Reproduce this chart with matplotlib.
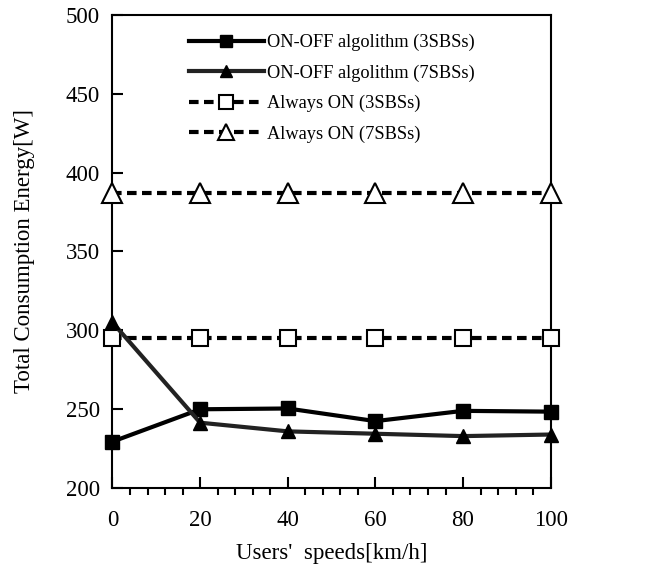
import matplotlib
matplotlib.use('Agg')
import matplotlib.pyplot as plt
from matplotlib.ticker import MultipleLocator

plt.rcParams['font.family'] = 'Liberation Serif'
plt.rcParams['font.size'] = 16

# --- dati ---
speeds = [0, 20, 40, 60, 80, 100]
onoff_3 = [229.5, 250, 250.5, 242.5, 249, 248.5]
onoff_7 = [305, 241.5, 236, 234.5, 233, 234]
always_3 = [295, 295, 295, 295, 295, 295]
always_7 = [387, 387, 387, 387, 387, 387]

fig = plt.figure(figsize=(6.54, 5.67), dpi=100)
ax = fig.add_axes([0.172, 0.139, 0.670, 0.835])

dash = (0, (2.3, 1.3))
ax.plot(speeds, onoff_3, color='black', linewidth=3, marker='s', markersize=10,
        label='ON-OFF algolithm (3SBSs)', clip_on=False, zorder=4)
ax.plot(speeds, onoff_7, color='#222222', linewidth=3, marker='^', markersize=9.5,
        markerfacecolor='black', markeredgecolor='black',
        label='ON-OFF algolithm (7SBSs)', clip_on=False, zorder=4)
ax.plot(speeds, always_3, color='black', linewidth=3, linestyle=dash,
        marker='s', markersize=11.5, markerfacecolor='white', markeredgewidth=1.5,
        label='Always ON (3SBSs)', clip_on=False, zorder=3)
ax.plot(speeds, always_7, color='black', linewidth=3, linestyle=dash,
        marker='^', markersize=14, markerfacecolor='white', markeredgewidth=1.5,
        label='Always ON (7SBSs)', clip_on=False, zorder=3)

ax.set_xlim(0, 100)
ax.set_ylim(200, 500)
ax.xaxis.set_major_locator(MultipleLocator(20))
ax.xaxis.set_minor_locator(MultipleLocator(4))
ax.yaxis.set_major_locator(MultipleLocator(50))
ax.tick_params(axis='both', direction='in', width=1.5, labelsize=16.5)
ax.tick_params(axis='x', which='major', length=8, pad=15.5)
ax.tick_params(axis='x', which='minor', length=5, width=1.5)
ax.tick_params(axis='y', which='major', length=8, pad=9)
for s in ax.spines.values():
    s.set_linewidth(1.5)
ax.grid(False)

ax.set_xlabel("Users'  speeds[km/h]", fontsize=16.5, labelpad=9)
ax.set_ylabel('Total Consumption Energy[W]', fontsize=16.5, labelpad=22)

ax.legend(loc='upper center', bbox_to_anchor=(0.5, 0.983), frameon=False,
          fontsize=13.2, handlelength=4.1, handletextpad=0.15, labelspacing=0.72,
          borderaxespad=0.2, markerscale=0.85)

plt.savefig('out.png', dpi=100)
